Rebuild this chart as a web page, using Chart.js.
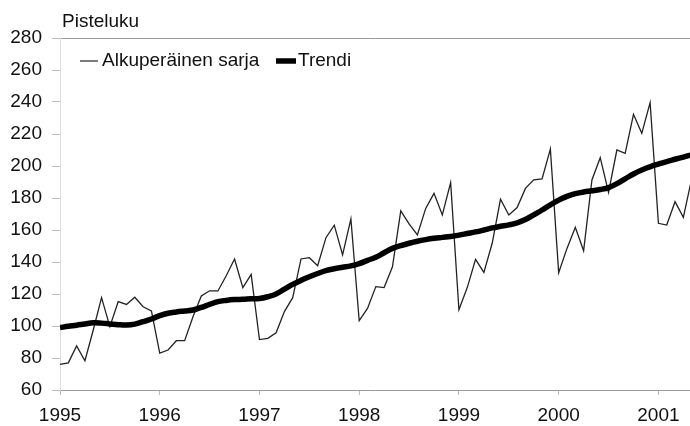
<!DOCTYPE html>
<html>
<head>
<meta charset="utf-8">
<script src="https://cdn.jsdelivr.net/npm/chart.js@4/dist/chart.umd.min.js"></script>
<style>
  html, body { margin: 0; padding: 0; background: #fff; }
  #wrap { width: 690px; height: 426px; position: relative; }
</style>
</head>
<body>
<div id="wrap"><canvas id="c" width="690" height="426"></canvas></div>
<script>
// Monthly data, January 1995 – May 2001
const startYear = 1995;
const yearTicks = [1995, 1996, 1997, 1998, 1999, 2000, 2001];
const seriesNames = ['Alkuperäinen sarja', 'Trendi'];
const yAxisTitle = 'Pisteluku';

const original = [
  76, 77, 87.5, 78.3, 97.5, 117.7, 99.6, 115.2, 113.5, 118, 112, 109.4,
  83, 85, 90.8, 90.8, 105.8, 118.8, 122, 121.9, 131.4, 141.9, 124, 132.3,
  91.5, 92.3, 95.8, 109, 117.7, 141.9, 142.7, 137.7, 155.2, 163, 144.4, 166.9,
  103.3, 111, 124.6, 124, 137, 172, 163.8, 156.9, 173.5, 182.9, 169.4, 189.6,
  110.2, 124, 141.7, 133.5, 151.7, 179.2, 169.4, 174, 186, 191.3, 192, 210.6,
  133.3, 148.5, 161.7, 147, 191.3, 205.2, 183.5, 210, 207.9, 232.3, 220.4, 239.6,
  164.2, 163.1, 177.7, 167.9, 192
];
const trend = [
  99, 99.8, 100.5, 101.3, 102, 101.8, 101.3, 100.8, 100.6, 101.2, 102.7, 104.4,
  106.5, 108, 108.8, 109.4, 110, 111.6, 113.5, 115.2, 116, 116.5, 116.7, 117,
  117.2, 118.3, 120, 123, 126, 128.5, 130.8, 132.8, 134.6, 135.8, 136.7, 137.6,
  139, 141, 143, 145.8, 148.5, 150.2, 151.7, 153, 154, 154.8, 155.4, 156,
  156.8, 157.8, 158.8, 160, 161.3, 162.3, 163.2, 164.5, 166.5, 169.5, 172.5, 175.7,
  178.7, 181, 182.7, 183.8, 184.5, 185.3, 186.5, 189, 192, 195, 197.5, 199.5,
  201.2, 202.8, 204.2, 205.6, 207
];

const toPoints = arr => arr.map((v, i) => ({ x: startYear + i / 12, y: v }));
const FONT = '"Liberation Sans", Arial, sans-serif';

const overlay = {
  id: 'overlay',
  afterDraw(chart) {
    const ctx = chart.ctx;
    ctx.save();
    ctx.fillStyle = '#111';
    ctx.font = '19px ' + FONT;
    ctx.textBaseline = 'middle';
    ctx.textAlign = 'left';
    ctx.fillText(yAxisTitle, 62, 22);
    // legend
    const ly = 61;
    ctx.strokeStyle = '#222';
    ctx.lineWidth = 1.2;
    ctx.beginPath(); ctx.moveTo(80, ly); ctx.lineTo(98, ly); ctx.stroke();
    ctx.fillText(seriesNames[0], 102, ly);
    ctx.strokeStyle = '#000';
    ctx.lineWidth = 5.5;
    ctx.beginPath(); ctx.moveTo(276, ly); ctx.lineTo(296, ly); ctx.stroke();
    ctx.fillText(seriesNames[1], 298, ly);
    ctx.restore();
  }
};

new Chart(document.getElementById('c'), {
  type: 'line',
  data: {
    datasets: [
      { label: seriesNames[0], data: toPoints(original), borderColor: '#222', borderWidth: 1.3,
        pointRadius: 0, tension: 0, fill: false, order: 2 },
      { label: seriesNames[1], data: toPoints(trend), borderColor: '#000', borderWidth: 5.5,
        pointRadius: 0, tension: 0.4, fill: false, order: 1 }
    ]
  },
  options: {
    responsive: false,
    animation: false,
    devicePixelRatio: 1,
    layout: { padding: { top: 38, right: 0, left: 0, bottom: 0 } },
    plugins: { legend: { display: false }, tooltip: { enabled: false }, title: { display: false } },
    scales: {
      x: {
        type: 'linear',
        min: 1995,
        max: 2001 + 3.8 / 12,
        afterFit: s => { s.height = 36; },
        afterBuildTicks: s => { s.ticks = yearTicks.map(v => ({ value: v })); },
        ticks: {
          color: '#111', font: { family: FONT, size: 19 }, padding: 9, maxRotation: 0,
          autoSkip: false,
          callback: v => String(v)
        },
        grid: { drawOnChartArea: false, tickLength: 5, color: '#bbb', tickColor: '#bbb' },
        border: { color: '#999', width: 1 }
      },
      y: {
        min: 60,
        max: 280,
        afterFit: s => { s.width = 60; },
        ticks: { stepSize: 20, color: '#111', font: { family: FONT, size: 19 }, padding: 10,
          callback: v => String(v) },
        grid: {
          drawOnChartArea: true,
          tickLength: 8,
          color: c => (c.tick && c.tick.value === 280) ? '#999' : 'rgba(0,0,0,0)',
          tickColor: '#bbb'
        },
        border: { color: '#ddd', width: 1 }
      }
    }
  },
  plugins: [overlay]
});
</script>
</body>
</html>
